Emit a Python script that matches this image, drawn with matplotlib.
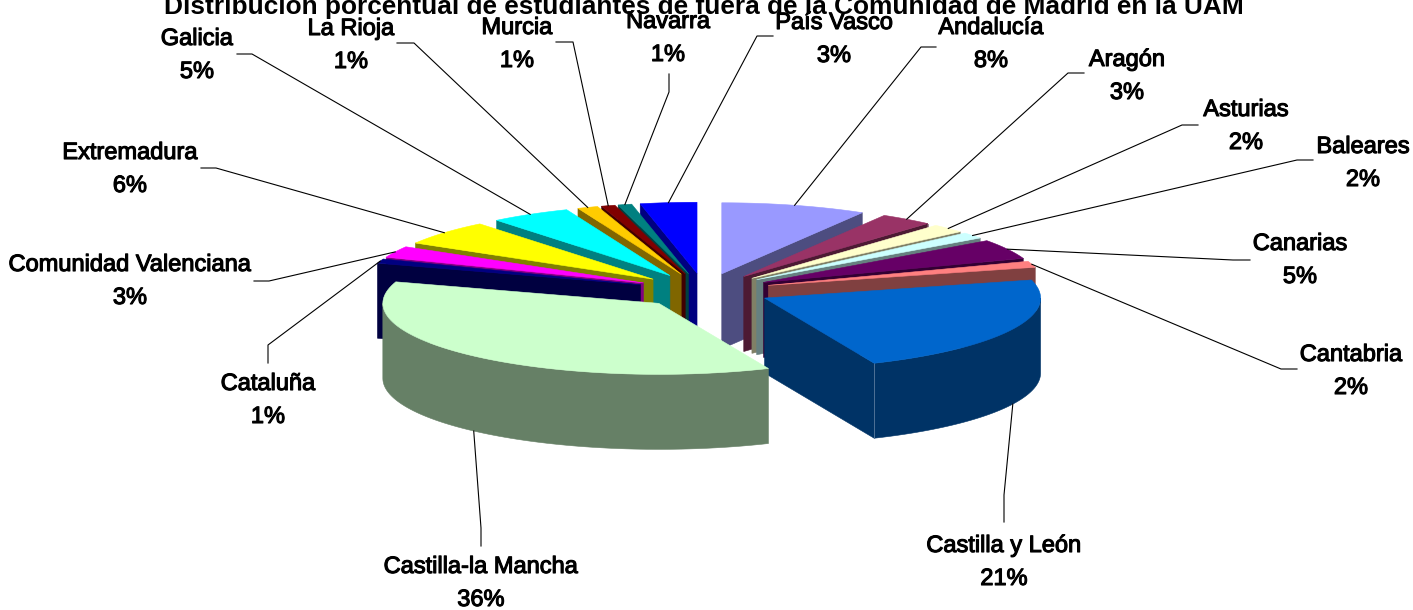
import numpy as np
import matplotlib
matplotlib.use('Agg')
import matplotlib.pyplot as plt
import matplotlib.patheffects as pe
from matplotlib.patches import Polygon
from matplotlib.colors import to_rgb

plt.rcParams['font.family'] = ['Liberation Sans', 'DejaVu Sans']

titulo = 'Distribución porcentual de estudiantes de fuera de la Comunidad de Madrid en la UAM'

regiones = ['Andalucía', 'Aragón', 'Asturias', 'Baleares', 'Canarias', 'Cantabria',
            'Castilla y León', 'Castilla-la Mancha', 'Cataluña', 'Comunidad Valenciana',
            'Extremadura', 'Galicia', 'La Rioja', 'Murcia', 'Navarra', 'País Vasco']
# sectores
valores = [8.5, 3.1, 2.0, 1.4, 4.5, 1.4, 22.6, 36.4, 1.0, 2.6, 5.7, 4.7, 1.2, 0.8, 0.8, 3.3]
etiquetas = [8, 3, 2, 2, 5, 2, 21, 36, 1, 3, 6, 5, 1, 1, 1, 3]
colores = ['#9999FF', '#993366', '#FFFFCC', '#CCFFFF', '#660066', '#FF8080',
           '#0066CC', '#CCFFCC', '#000080', '#FF00FF', '#FFFF00', '#00FFFF',
           '#FFCC00', '#800000', '#008080', '#0000FF']

# geometria de la tarta en pixeles
CX, CY = 704, 290.5
RX, RY = 276, 71
ALTO = 75
EXPLODE = 0.244

# posicion del texto (centro x, linea base del nombre)
pos_texto = {
    'Galicia': (197, 45), 'La Rioja': (351, 35), 'Murcia': (517, 34), 'Navarra': (668, 28),
    'País Vasco': (834, 29), 'Andalucía': (991, 34), 'Aragón': (1127, 66), 'Asturias': (1246, 116),
    'Baleares': (1363, 153), 'Canarias': (1300, 250), 'Cantabria': (1351, 361),
    'Castilla y León': (1004, 552), 'Castilla-la Mancha': (481, 573), 'Cataluña': (268, 390),
    'Comunidad Valenciana': (130, 271), 'Extremadura': (130, 159),
}
# tramos fijos de las lineas guia
guias = {
    'Galicia': [(237, 54), (252, 54)], 'La Rioja': [(397, 43), (414, 43)],
    'Murcia': [(556, 42), (573, 42)], 'Navarra': [(669, 74), (669, 92)],
    'País Vasco': [(773, 36), (757, 36)], 'Andalucía': [(936, 47), (921, 47)],
    'Aragón': [(1084, 73), (1068, 73)], 'Asturias': [(1198, 125), (1182, 125)],
    'Baleares': [(1313, 160), (1297, 160)], 'Canarias': [(1250, 260), (1233, 260)],
    'Cantabria': [(1297, 369), (1281, 369)], 'Castilla y León': [(1004, 522), (1004, 495)],
    'Castilla-la Mancha': [(481, 546), (481, 528)], 'Cataluña': [(268, 363), (268, 345)],
    'Comunidad Valenciana': [(254, 281), (269, 281)], 'Extremadura': [(201, 168), (216, 168)],
}


def oscuro(color):
    return tuple(c * 0.5 for c in to_rgb(color))


def claro(color):
    return tuple(c * 0.65 + 0.35 for c in color)


fig = plt.figure(figsize=(14.13, 6.10), dpi=100)
ax = fig.add_axes([0, 0, 1, 1])
ax.set_xlim(0, 1413)
ax.set_ylim(610, 0)
ax.axis('off')

total = sum(valores)
limites = np.concatenate([[0], np.cumsum(valores)]) / total * 2 * np.pi
medios = (limites[:-1] + limites[1:]) / 2

# de atras hacia delante
for i in sorted(range(len(valores)), key=lambda k: -np.cos(medios[k])):
    t0, t1 = limites[i], limites[i + 1]
    ax0 = CX + EXPLODE * RX * np.sin(medios[i])
    ay0 = CY - EXPLODE * RY * np.cos(medios[i])
    ts = np.linspace(t0, t1, 80)
    bx = ax0 + RX * np.sin(ts)
    by = ay0 - RY * np.cos(ts)
    lado = oscuro(colores[i])

    # paredes rectas visibles
    for t, visible in ((t1, np.sin(t1) > 0), (t0, np.sin(t0) < 0)):
        if visible:
            px, py = ax0 + RX * np.sin(t), ay0 - RY * np.cos(t)
            ax.add_patch(Polygon([(ax0, ay0), (px, py), (px, py + ALTO), (ax0, ay0 + ALTO)],
                                 fc=lado, ec=lado, lw=0.4, zorder=2))
    # borde curvo delantero
    a, b = max(t0, np.pi / 2), min(t1, 3 * np.pi / 2)
    if a < b:
        tr = np.linspace(a, b, 80)
        rx_ = ax0 + RX * np.sin(tr)
        ry_ = ay0 - RY * np.cos(tr)
        pts = list(zip(rx_, ry_)) + list(zip(rx_[::-1], ry_[::-1] + ALTO))
        ax.add_patch(Polygon(pts, fc=lado, ec=lado, lw=0.4, zorder=2))
    # arista vertical mas clara
    if np.sin(t1) > 0:
        px, py = ax0 + RX * np.sin(t1), ay0 - RY * np.cos(t1)
        ax.plot([px, px], [py, py + ALTO], color=claro(lado), lw=0.6, zorder=2)
    # cara superior
    ax.add_patch(Polygon([(ax0, ay0)] + list(zip(bx, by)), fc=colores[i], ec=colores[i],
                         lw=0.4, zorder=2))

# lineas guia y textos
grueso = [pe.withStroke(linewidth=0.8, foreground='black')]
for i, nombre in enumerate(regiones):
    t = medios[i]
    ex = CX + EXPLODE * RX * np.sin(t) + RX * np.sin(t)
    ey = CY - EXPLODE * RY * np.cos(t) - RY * np.cos(t)
    if np.cos(t) < 0:
        ey += ALTO
    xs = [p[0] for p in guias[nombre]] + [ex]
    ys = [p[1] for p in guias[nombre]] + [ey]
    ax.plot(xs, ys, color='black', lw=0.8, zorder=3)
    x, y = pos_texto[nombre]
    ax.text(x, y, nombre, ha='center', va='baseline', fontsize=17, zorder=4, path_effects=grueso)
    ax.text(x, y + 33, f'{etiquetas[i]}%', ha='center', va='baseline', fontsize=17, zorder=4,
            path_effects=grueso)

ax.text(704, 14, titulo, ha='center', va='baseline', fontsize=18.9, fontweight='bold', zorder=1)

fig.savefig('out.png', dpi=100)
